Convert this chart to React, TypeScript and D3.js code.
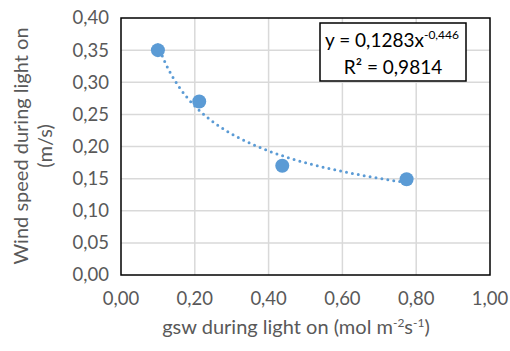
import React from 'react'
import * as d3 from 'd3'

const gswValues = [0.1, 0.212, 0.437, 0.774]
const windValues = [0.35, 0.27, 0.17, 0.149]
const xTicks = [0, 0.2, 0.4, 0.6, 0.8, 1.0]
const yTicks = [0, 0.05, 0.1, 0.15, 0.2, 0.25, 0.3, 0.35, 0.4]
const fitCoef = 0.1283
const fitExp = -0.446

const W = 510
const H = 351
const margin = { top: 18, right: 20, bottom: 76, left: 121 }
const font = "Lato, 'Open Sans', sans-serif"
const blue = '#5b9bd5'
const grey = '#595959'

const fmt = (v: number) => v.toFixed(2).replace('.', ',')

const App: React.FC = () => {
  const x = d3.scaleLinear().domain([0, 1]).range([margin.left, W - margin.right])
  const y = d3.scaleLinear().domain([0, 0.4]).range([H - margin.bottom, margin.top])

  const xMin = d3.min(gswValues) as number
  const xMax = d3.max(gswValues) as number
  const fitX = d3.range(0, 81).map(i => xMin + ((xMax - xMin) * i) / 80)
  const fitLine = d3
    .line<number>()
    .x(d => x(d))
    .y(d => y(fitCoef * Math.pow(d, fitExp)))
    .curve(d3.curveMonotoneX)

  const [x0, x1] = x.range()
  const [y0, y1] = y.range()

  return (
    <svg width={W} height={H} style={{ position: 'absolute', left: 0, top: 0, background: '#fff' }}>
      {/* grid */}
      {xTicks.slice(1, -1).map(t => (
        <line key={'gx' + t} x1={x(t)} x2={x(t)} y1={y0} y2={y1} stroke="#d9d9d9" strokeWidth={1.5} />
      ))}
      {yTicks.slice(1, -1).map(t => (
        <line key={'gy' + t} x1={x0} x2={x1} y1={y(t)} y2={y(t)} stroke="#d9d9d9" strokeWidth={1.5} />
      ))}
      <rect x={x0} y={y1} width={x1 - x0} height={y0 - y1} fill="none" stroke="#000" strokeWidth={1.5} />

      {/* tick labels */}
      {yTicks.map(t => (
        <text key={'yt' + t} x={x0 - 12} y={y(t)} dy="0.35em" textAnchor="end" fontFamily={font} fontSize={18.5} fill={grey}>
          {fmt(t)}
        </text>
      ))}
      {xTicks.map(t => (
        <text key={'xt' + t} x={x(t)} y={y0 + 30} textAnchor="middle" fontFamily={font} fontSize={18.5} fill={grey}>
          {fmt(t)}
        </text>
      ))}

      {/* axis titles */}
      <text x={296} y={334} textAnchor="middle" fontFamily={font} fontSize={20} fill={grey}>
        gsw during light on (mol m<tspan dy={-7} fontSize={12}>-2</tspan>
        <tspan dy={7}>s</tspan>
        <tspan dy={-7} fontSize={12}>-1</tspan>
        <tspan dy={7}>)</tspan>
      </text>
      <g transform={`translate(28, 146) rotate(-90)`}>
        <text textAnchor="middle" fontFamily={font} fontSize={20} fill={grey}>
          Wind speed during light on
        </text>
        <text y={24} textAnchor="middle" fontFamily={font} fontSize={20} fill={grey}>
          (m/s)
        </text>
      </g>

      {/* trend line */}
      <path
        d={fitLine(fitX) ?? ''}
        fill="none"
        stroke={blue}
        strokeWidth={3}
        strokeDasharray="0 6"
        strokeLinecap="round"
      />

      {/* points */}
      {gswValues.map((g, i) => (
        <circle key={'p' + i} cx={x(g)} cy={y(windValues[i])} r={7} fill={blue} />
      ))}

      {/* equation box */}
      <rect x={320} y={23} width={146} height={58} fill="#fff" stroke="#000" strokeWidth={1.5} />
      <text x={392} y={47} textAnchor="middle" fontFamily={font} fontSize={19} fill="#000">
        y = 0,1283x<tspan dy={-8} fontSize={12}>-0,446</tspan>
      </text>
      <text x={393} y={74} textAnchor="middle" fontFamily={font} fontSize={19} fill="#000">
        R² = 0,9814
      </text>
    </svg>
  )
}

export default App
